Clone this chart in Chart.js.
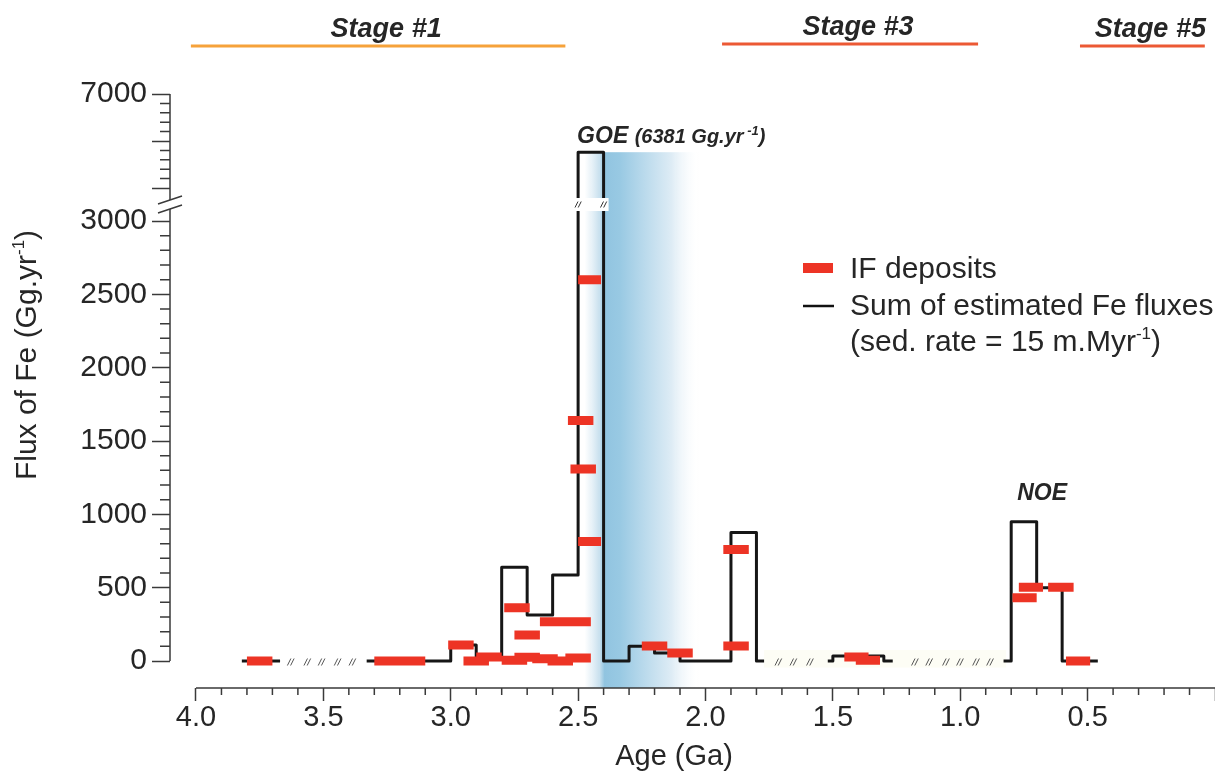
<!DOCTYPE html>
<html>
<head>
<meta charset="utf-8">
<script src="https://cdn.jsdelivr.net/npm/chart.js@4.4.1/dist/chart.umd.min.js"></script>
<style>
  html, body { margin: 0; padding: 0; background: #fff; }
  canvas { display: block; }
</style>
</head>
<body>
<canvas id="c" width="1215" height="773"></canvas>
<script>
// ---- Sum of estimated Fe fluxes: step segments (age in Ga, flux in Gg/yr)
const FLUX_FROM = [3.82, 3.33, 3.00, 2.90, 2.80, 2.70, 2.60, 2.50, 2.40, 2.30, 2.20, 2.10, 1.90, 1.80, 1.52, 1.50, 1.30, 0.83, 0.80, 0.70, 0.60];
const FLUX_TO   = [3.67, 3.00, 2.90, 2.80, 2.70, 2.60, 2.50, 2.40, 2.30, 2.20, 2.10, 1.90, 1.80, 1.77, 1.50, 1.30, 1.265, 0.80, 0.70, 0.60, 0.46];
const FLUX_VAL  = [0,    0,    110,  30,   640,  314,  586,  6381, 0,    100,  55,   0,    877,  0,    0,    35,   0,    0,    950,  500,  0];

// ---- Iron formation deposits: age interval (Ga) and Fe flux (Gg/yr)
const IF_FROM = [3.80, 3.30, 3.20, 3.01, 2.95, 2.90, 2.80, 2.75, 2.68, 2.62, 2.55, 2.79, 2.75, 2.65, 2.55, 2.54, 2.53, 2.50, 2.50, 2.25, 2.15, 1.93, 1.93, 1.455, 1.41, 0.795, 0.77, 0.655, 0.585];
const IF_TO   = [3.70, 3.20, 3.10, 2.91, 2.85, 2.80, 2.70, 2.65, 2.58, 2.52, 2.45, 2.69, 2.65, 2.55, 2.45, 2.44, 2.43, 2.41, 2.41, 2.15, 2.05, 1.83, 1.83, 1.36,  1.315, 0.70, 0.675, 0.555, 0.49];
const IF_VAL  = [0,    0,    0,    110,  0,    28,   5,    25,   15,   0,    20,   363,  177,  267,  267,  1640, 1310, 2600, 815,  102,  54,   761,  102,  27,    5,     431,  503,   503,   0];

// ---- Axis ticks
const X_TICKS = [4.0, 3.5, 3.0, 2.5, 2.0, 1.5, 1.0, 0.5, 0.0];
const X_LABELS = ['4.0', '3.5', '3.0', '2.5', '2.0', '1.5', '1.0', '0.5', ''];
const Y_TICKS = [0, 500, 1000, 1500, 2000, 2500, 3000, 6000, 6500, 7000];
const Y_LABELS = ['0', '500', '1000', '1500', '2000', '2500', '3000', '', '', '7000'];

// ---- Stages along the top
const STAGE_NAMES = ['Stage #1', 'Stage #3', 'Stage #5'];
const STAGE_FROM = [4.02, 1.935, 0.53];
const STAGE_TO = [2.55, 0.93, 0.04];

// ---- Ages where the record has gaps (marked with small double slashes)
const GAP_AGES = [3.628, 3.563, 3.507, 3.444, 3.386, 1.714, 1.655, 1.590, 1.178, 1.122, 1.056, 1.001, 0.938, 0.883];

// ---- GOE / NOE annotations
const GOE_AGE = 2.5, GOE_FLUX = 6381;
const NOE_AGE = 0.8, NOE_FLUX = 950;

// Broken y axis: values up to the break use the lower scale, the
// 6000-7000 window is compressed above it.
const BREAK_LOW = 3000, BREAK_HIGH = 6000;
const UPPER_BASE = 3225, UPPER_RATIO = 0.641;
function fwd(v) { return v <= 4500 ? v : UPPER_BASE + (v - BREAK_HIGH) * UPPER_RATIO; }
function inv(d) { return d <= (BREAK_LOW + UPPER_BASE) / 2 ? d : BREAK_HIGH + (d - UPPER_BASE) / UPPER_RATIO; }

class BrokenLinearScale extends Chart.LinearScale {
  getPixelForValue(value) {
    return super.getPixelForValue(value === null || value === undefined ? value : fwd(value));
  }
  getValueForPixel(pixel) {
    return inv(super.getValueForPixel(pixel));
  }
}
BrokenLinearScale.id = 'brokenLinear';
BrokenLinearScale.defaults = Chart.LinearScale.defaults;
Chart.register(BrokenLinearScale);

const FONT = '"Liberation Sans", Arial, Helvetica, sans-serif';
const TEXT = '#262626';
const AXIS = '#3a3a3a';
const RED = '#ed3425';
const STAGE_COLORS = ['#f6a23a', '#ec5934', '#ec5934'];

function font(size, bold, italic) {
  return (italic ? 'italic ' : '') + (bold ? 'bold ' : '') + size + 'px ' + FONT;
}
function richWidth(ctx, parts) {
  let w = 0;
  parts.forEach(p => { ctx.font = font(p.size, p.bold, p.italic); w += ctx.measureText(p.text).width; });
  return w;
}
function drawRich(ctx, parts, x, y) {
  parts.forEach(p => {
    ctx.font = font(p.size, p.bold, p.italic);
    ctx.fillText(p.text, x, y + (p.dy || 0));
    x += ctx.measureText(p.text).width;
  });
}
function slashes(ctx, x, y, h) {
  ctx.beginPath();
  [-1.6, 1.6].forEach(k => {
    ctx.moveTo(x + k - h * 0.25, y + h / 2);
    ctx.lineTo(x + k + h * 0.25, y - h / 2);
  });
  ctx.stroke();
}

// Build point lists
const fluxPoints = [];
FLUX_FROM.forEach((a, i) => {
  if (i > 0 && a !== FLUX_TO[i - 1]) fluxPoints.push({ x: a, y: null });
  fluxPoints.push({ x: a, y: FLUX_VAL[i] }, { x: FLUX_TO[i], y: FLUX_VAL[i] });
});
const ifPoints = [];
IF_FROM.forEach((a, i) => {
  ifPoints.push({ x: a, y: IF_VAL[i] }, { x: IF_TO[i], y: IF_VAL[i] }, { x: IF_TO[i], y: null });
});

const decorations = {
  id: 'decorations',
  beforeDatasetsDraw(chart) {
    const { ctx, chartArea, scales: { x, y } } = chart;
    ctx.save();
    // faint band behind the Mesoproterozoic gap
    ctx.fillStyle = '#fdfdf5';
    ctx.fillRect(x.getPixelForValue(1.77), y.getPixelForValue(75), x.getPixelForValue(0.82) - x.getPixelForValue(1.77), y.getPixelForValue(-45) - y.getPixelForValue(75));
    // blue haze following the GOE
    const x0 = x.getPixelForValue(2.475), x1 = x.getPixelForValue(2.02);
    const span = x1 - x0;
    const g = ctx.createLinearGradient(x0, 0, x1, 0);
    const stop = (px, c) => g.addColorStop(Math.min(1, Math.max(0, (px - x0) / span)), c);
    const xl = x.getPixelForValue(2.4);
    g.addColorStop(0, 'rgba(210,230,242,0)');
    stop(xl - 4, 'rgba(200,224,238,1)');
    stop(xl + 1, 'rgba(145,196,224,1)');
    stop(xl + 16, 'rgba(152,201,227,1)');
    stop(xl + 38, 'rgba(182,216,235,1)');
    stop(xl + 68, 'rgba(222,236,245,1)');
    g.addColorStop(1, 'rgba(255,255,255,0)');
    ctx.fillStyle = g;
    const top = y.getPixelForValue(GOE_FLUX);
    ctx.fillRect(x0, top, span, chartArea.bottom - top);
    ctx.restore();
  },
  afterDatasetsDraw(chart) {
    const { ctx, scales: { x, y } } = chart;
    const yb = (y.getPixelForValue(BREAK_LOW) + y.getPixelForValue(BREAK_HIGH)) / 2;
    ctx.save();
    // break in the GOE column
    const a = x.getPixelForValue(2.5), b = x.getPixelForValue(2.4);
    ctx.fillStyle = '#fff';
    ctx.fillRect(a - 5, yb - 6.5, b - a + 10, 13);
    ctx.strokeStyle = '#333';
    ctx.lineWidth = 1;
    slashes(ctx, a, yb, 6);
    slashes(ctx, b, yb, 6);
    // gaps in the record
    ctx.strokeStyle = '#555';
    GAP_AGES.forEach(g => slashes(ctx, x.getPixelForValue(g), y.getPixelForValue(0) + 1, 7));
    ctx.restore();
  },
  afterDraw(chart) {
    const { ctx, chartArea, scales: { x, y } } = chart;
    const L = chartArea.left, B = chartArea.bottom;
    ctx.save();
    ctx.strokeStyle = AXIS;
    ctx.lineWidth = 1.5;
    // axis lines
    ctx.beginPath();
    ctx.moveTo(x.getPixelForValue(4.0), B); ctx.lineTo(chartArea.right, B);
    ctx.moveTo(L, y.getPixelForValue(7000)); ctx.lineTo(L, y.getPixelForValue(0));
    ctx.stroke();
    // minor ticks
    ctx.beginPath();
    for (let i = 1; i < 40; i++) {
      if (i % 5 === 0) continue;
      const px = x.getPixelForValue(i / 10);
      ctx.moveTo(px, B); ctx.lineTo(px, B + 7);
    }
    for (let v = 100; v < 3000; v += 100) {
      if (v % 500 === 0) continue;
      const py = y.getPixelForValue(v);
      ctx.moveTo(L - 10, py); ctx.lineTo(L, py);
    }
    for (let v = 6100; v < 7000; v += 100) {
      if (v % 500 === 0) continue;
      const py = y.getPixelForValue(v);
      ctx.moveTo(L - 10, py); ctx.lineTo(L, py);
    }
    ctx.stroke();
    // axis break
    const yb = (y.getPixelForValue(BREAK_LOW) + y.getPixelForValue(BREAK_HIGH)) / 2;
    ctx.fillStyle = '#fff';
    ctx.beginPath();
    ctx.moveTo(L - 12, yb - 0.5); ctx.lineTo(L + 12, yb - 8.5);
    ctx.lineTo(L + 12, yb + 0.5); ctx.lineTo(L - 12, yb + 8.5);
    ctx.closePath(); ctx.fill();
    ctx.beginPath();
    ctx.moveTo(L - 12, yb - 0.5); ctx.lineTo(L + 12, yb - 8.5);
    ctx.moveTo(L - 12, yb + 8.5); ctx.lineTo(L + 12, yb + 0.5);
    ctx.stroke();

    ctx.fillStyle = TEXT;
    ctx.textBaseline = 'alphabetic';
    ctx.textAlign = 'left';
    // axis titles
    ctx.font = font(29);
    const xt = 'Age (Ga)';
    ctx.fillText(xt, 674 - ctx.measureText(xt).width / 2, 765);
    const yParts = [{ text: 'Flux of Fe (Gg.yr', size: 30 }, { text: '-1', size: 17, dy: -12 }, { text: ')', size: 30 }];
    ctx.save();
    ctx.translate(36, 355);
    ctx.rotate(-Math.PI / 2);
    drawRich(ctx, yParts, -richWidth(ctx, yParts) / 2, 0);
    ctx.restore();

    // legend
    ctx.fillStyle = RED;
    ctx.fillRect(803, 263, 30, 10);
    ctx.strokeStyle = '#111';
    ctx.lineWidth = 2.5;
    ctx.beginPath(); ctx.moveTo(803, 306); ctx.lineTo(834, 306); ctx.stroke();
    ctx.fillStyle = TEXT;
    ctx.font = font(30);
    ctx.fillText('IF deposits', 850, 278);
    ctx.fillText('Sum of estimated Fe fluxes', 850, 315);
    drawRich(ctx, [{ text: '(sed. rate = 15 m.Myr', size: 30 }, { text: '-1', size: 17, dy: -12 }, { text: ')', size: 30 }], 850, 351);

    // event labels
    drawRich(ctx, [
      { text: 'GOE ', size: 23, bold: true, italic: true },
      { text: '(6381 Gg.yr', size: 20, bold: true, italic: true },
      { text: ' -1', size: 13, bold: true, italic: true, dy: -8 },
      { text: ')', size: 20, bold: true, italic: true }
    ], x.getPixelForValue(GOE_AGE) - 1, y.getPixelForValue(GOE_FLUX) - 9);
    ctx.font = font(23, true, true);
    ctx.fillText('NOE', x.getPixelForValue(NOE_AGE) + 6, y.getPixelForValue(NOE_FLUX) - 22);

    // stages
    STAGE_NAMES.forEach((name, i) => {
      const a = x.getPixelForValue(STAGE_FROM[i]), b = x.getPixelForValue(STAGE_TO[i]);
      const ly = i === 1 ? 44 : 46;
      ctx.strokeStyle = STAGE_COLORS[i];
      ctx.lineWidth = 3;
      ctx.beginPath(); ctx.moveTo(a, ly); ctx.lineTo(b, ly); ctx.stroke();
      ctx.fillStyle = TEXT;
      ctx.font = font(27, true, true);
      const w = ctx.measureText(name).width;
      ctx.fillText(name, (a + b) / 2 + 8 - w / 2, ly - 9);
    });
    ctx.restore();
  }
};

new Chart(document.getElementById('c'), {
  type: 'line',
  data: {
    datasets: [
      {
        label: 'IF deposits',
        data: ifPoints,
        borderColor: RED,
        borderWidth: 9,
        borderCapStyle: 'butt',
        pointRadius: 0,
        spanGaps: false,
        order: 0
      },
      {
        label: 'Sum of estimated Fe fluxes',
        data: fluxPoints,
        borderColor: '#161616',
        borderWidth: 3,
        borderJoinStyle: 'round',
        borderCapStyle: 'butt',
        pointRadius: 0,
        spanGaps: false,
        order: 1
      }
    ]
  },
  options: {
    responsive: false,
    animation: false,
    events: [],
    layout: { padding: { top: 94, left: 0, right: 0, bottom: 0 } },
    plugins: { legend: { display: false }, tooltip: { enabled: false } },
    scales: {
      x: {
        type: 'linear',
        reverse: true,
        min: 0,
        max: 4.102,
        afterBuildTicks: s => { s.ticks = X_TICKS.map(v => ({ value: v })); },
        afterFit: s => { s.height = 85; },
        border: { display: false },
        grid: { drawOnChartArea: false, tickLength: 13, tickColor: AXIS, tickWidth: 1.5 },
        ticks: {
          autoSkip: false, maxRotation: 0, padding: 0, color: TEXT,
          font: { family: FONT, size: 29 },
          callback: (v, i) => X_LABELS[i]
        }
      },
      y: {
        type: 'brokenLinear',
        min: fwd(-184),
        max: fwd(7000),
        afterBuildTicks: s => { s.ticks = Y_TICKS.map(v => ({ value: v })); },
        afterFit: s => { s.width = 170; },
        border: { display: false },
        grid: { drawOnChartArea: false, tickLength: 18, tickColor: AXIS, tickWidth: 1.5 },
        ticks: {
          autoSkip: false, padding: 5, color: TEXT,
          font: { family: FONT, size: 30 },
          callback: (v, i) => Y_LABELS[i]
        }
      }
    }
  },
  plugins: [decorations]
});
</script>
</body>
</html>
